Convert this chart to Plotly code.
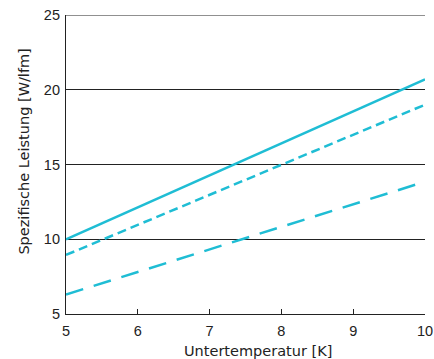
import plotly.graph_objects as go

x_vals = [5, 10]
solid_vals = [10.0, 20.7]
short_dash_vals = [8.95, 19.0]
long_dash_vals = [6.3, 13.85]

x_ticks = [5, 6, 7, 8, 9, 10]
y_ticks = [5, 10, 15, 20, 25]

x_title = "Untertemperatur [K]"
y_title = "Spezifische Leistung [W/lfm]"

color = "#1fbdd4"
title_font = dict(family="DejaVu Sans, Liberation Sans, sans-serif", size=14.5, color="#222")

fig = go.Figure()
fig.add_trace(go.Scatter(x=x_vals, y=solid_vals, mode="lines",
                         line=dict(color=color, width=2.5)))
fig.add_trace(go.Scatter(x=x_vals, y=short_dash_vals, mode="lines",
                         line=dict(color=color, width=2.5, dash="9px,5px")))
fig.add_trace(go.Scatter(x=x_vals, y=long_dash_vals, mode="lines",
                         line=dict(color=color, width=2.5, dash="18px,11px")))

fig.add_shape(type="line", xref="paper", yref="y", x0=0, x1=1, y0=25, y1=25,
              line=dict(color="#222", width=1))

fig.add_annotation(text=x_title, xref="paper", yref="paper", x=0.535, y=-0.124,
                   xanchor="center", yanchor="middle", showarrow=False, font=title_font)
fig.add_annotation(text=y_title, xref="paper", yref="paper", x=-0.118, y=0.542,
                   xanchor="center", yanchor="middle", textangle=-90,
                   showarrow=False, font=title_font)

fig.update_layout(
    width=434, height=359,
    margin=dict(l=66, r=9, t=15, b=45),
    paper_bgcolor="white", plot_bgcolor="white",
    showlegend=False,
    font=dict(family="Liberation Sans, Arial, sans-serif", size=14, color="#222"),
    xaxis=dict(range=[5, 10], tickvals=x_ticks, ticks="inside", ticklen=5,
               tickcolor="#222", showline=True, linecolor="#222", linewidth=1.2,
               showgrid=False, zeroline=False, automargin=False,
               tickfont=dict(size=14.5), ticklabelstandoff=3),
    yaxis=dict(range=[5, 25], tickvals=y_ticks, showline=True, linecolor="#222",
               linewidth=1.2, showgrid=True, gridcolor="#222", gridwidth=1,
               zeroline=False, ticks="", automargin=False,
               tickfont=dict(size=14.5), ticklabelstandoff=2),
)

fig.write_html("out.html", config={"displayModeBar": False},
               post_script="document.body.style.margin='0';document.body.style.overflow='hidden';")
